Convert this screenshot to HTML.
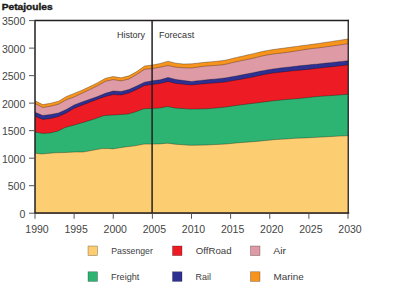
<!DOCTYPE html>
<html><head><meta charset="utf-8"><style>
html,body{margin:0;padding:0;background:#fff;}
svg{display:block;}
text{font-family:"Liberation Sans",sans-serif;fill:#2a2a2a;}
.ax{font-size:10px;fill:#444;}
.lg{font-size:9.8px;fill:#3c3c3c;}
.hf{font-size:9.4px;fill:#333;}
.tk{stroke:#555;stroke-width:1;}
</style></head><body>
<svg width="400" height="289" viewBox="0 0 400 289">
<text x="1.7" y="9.6" style="font-size:9.6px;font-weight:bold;fill:#1a1a1a;stroke:#1a1a1a;stroke-width:0.4" textLength="51.0" lengthAdjust="spacingAndGlyphs">Petajoules</text>
<polygon points="35.00,100.80 42.80,104.60 50.65,103.20 58.50,101.20 66.30,96.50 74.10,93.40 81.95,90.20 89.80,86.60 97.60,82.70 105.40,78.30 113.25,76.50 121.10,77.80 128.90,75.80 136.70,71.60 144.55,66.00 152.40,65.00 160.20,63.50 168.00,61.20 175.90,63.20 183.70,64.00 191.50,63.80 192.51,63.69 193.82,63.54 195.38,63.36 197.12,63.16 199.01,62.95 200.99,62.73 203.00,62.51 205.00,62.30 207.08,62.10 209.32,61.89 211.68,61.69 214.09,61.47 216.49,61.25 218.82,61.02 221.01,60.77 223.00,60.50 224.77,60.21 226.35,59.90 227.81,59.58 229.19,59.25 230.54,58.90 231.93,58.55 233.40,58.18 235.00,57.80 236.71,57.41 238.47,57.01 240.27,56.60 242.12,56.18 244.02,55.75 245.97,55.31 247.96,54.86 250.00,54.40 252.10,53.92 254.25,53.41 256.46,52.89 258.72,52.36 261.01,51.84 263.32,51.33 265.66,50.85 268.00,50.40 270.35,49.99 272.70,49.62 275.07,49.27 277.47,48.94 279.90,48.61 282.38,48.29 284.91,47.95 287.50,47.60 290.25,47.22 293.21,46.83 296.27,46.42 299.34,46.01 302.35,45.62 305.18,45.24 307.77,44.90 310.00,44.60 311.73,44.37 312.96,44.20 313.87,44.08 314.66,43.98 315.48,43.86 316.53,43.71 317.97,43.50 320.00,43.20 322.83,42.78 326.39,42.25 330.41,41.65 334.62,41.01 338.76,40.39 342.55,39.82 345.72,39.34 348.00,39.00 348.00,213.2 35.00,213.2" fill="#F7941D"/>
<polygon points="35.00,103.50 42.80,107.50 50.65,106.20 58.50,104.20 66.30,99.80 74.10,97.00 81.95,93.20 89.80,89.60 97.60,85.70 105.40,81.30 113.25,79.60 121.10,80.90 128.90,79.00 136.70,74.50 144.55,69.30 152.40,68.60 160.20,67.20 168.00,65.50 175.90,67.20 183.70,67.80 191.50,68.00 192.51,67.86 193.82,67.67 195.38,67.44 197.12,67.19 199.01,66.93 200.99,66.67 203.00,66.42 205.00,66.20 207.08,66.01 209.32,65.83 211.68,65.67 214.09,65.51 216.49,65.34 218.82,65.15 221.01,64.94 223.00,64.70 224.77,64.42 226.35,64.12 227.81,63.79 229.19,63.45 230.54,63.09 231.93,62.73 233.40,62.36 235.00,62.00 236.71,61.64 238.47,61.28 240.27,60.91 242.12,60.54 244.02,60.15 245.97,59.75 247.96,59.34 250.00,58.90 252.10,58.42 254.25,57.91 256.46,57.37 258.72,56.81 261.01,56.26 263.32,55.74 265.66,55.24 268.00,54.80 270.35,54.42 272.70,54.09 275.07,53.79 277.47,53.51 279.90,53.24 282.38,52.96 284.91,52.65 287.50,52.30 290.25,51.89 293.21,51.44 296.27,50.96 299.34,50.46 302.35,49.98 305.18,49.53 307.77,49.13 310.00,48.80 311.73,48.57 312.96,48.42 313.87,48.33 314.66,48.27 315.48,48.21 316.53,48.12 317.97,47.96 320.00,47.70 322.83,47.32 326.39,46.83 330.41,46.27 334.62,45.68 338.76,45.10 342.55,44.57 345.72,44.12 348.00,43.80 348.00,213.2 35.00,213.2" fill="#DE9AA5"/>
<polygon points="35.00,112.30 42.80,115.50 50.65,114.50 58.50,113.00 66.30,109.50 74.10,105.00 81.95,102.00 89.80,99.30 97.60,96.50 105.40,93.30 113.25,91.00 121.10,91.50 128.90,89.50 136.70,86.00 144.55,82.20 152.40,80.80 160.20,79.80 168.00,77.50 175.90,79.50 183.70,80.50 191.50,81.50 192.51,81.39 193.82,81.24 195.38,81.06 197.12,80.86 199.01,80.65 200.99,80.43 203.00,80.21 205.00,80.00 207.08,79.79 209.32,79.58 211.68,79.36 214.09,79.13 216.49,78.90 218.82,78.67 221.01,78.44 223.00,78.20 224.77,77.97 226.35,77.74 227.81,77.50 229.19,77.27 230.54,77.02 231.93,76.77 233.40,76.49 235.00,76.20 236.71,75.88 238.47,75.55 240.27,75.20 242.12,74.84 244.02,74.47 245.97,74.09 247.96,73.70 250.00,73.30 252.10,72.89 254.25,72.45 256.46,71.99 258.72,71.53 261.01,71.07 263.32,70.63 265.66,70.20 268.00,69.80 270.35,69.43 272.70,69.08 275.07,68.75 277.47,68.43 279.90,68.12 282.38,67.82 284.91,67.51 287.50,67.20 290.25,66.88 293.21,66.54 296.27,66.20 299.34,65.87 302.35,65.55 305.18,65.25 307.77,64.98 310.00,64.75 311.73,64.57 312.96,64.46 313.87,64.37 314.66,64.31 315.48,64.24 316.53,64.15 317.97,64.01 320.00,63.80 322.83,63.50 326.39,63.12 330.41,62.69 334.62,62.24 338.76,61.80 342.55,61.39 345.72,61.05 348.00,60.80 348.00,213.2 35.00,213.2" fill="#2E3192"/>
<polygon points="35.00,116.30 42.80,119.50 50.65,118.50 58.50,116.50 66.30,113.00 74.10,108.30 81.95,105.20 89.80,102.20 97.60,99.20 105.40,96.50 113.25,94.60 121.10,95.00 128.90,93.00 136.70,89.50 144.55,85.50 152.40,84.50 160.20,83.50 168.00,81.50 175.90,83.50 183.70,84.30 191.50,85.00 192.51,84.90 193.82,84.77 195.38,84.62 197.12,84.44 199.01,84.26 200.99,84.07 203.00,83.88 205.00,83.70 207.08,83.52 209.32,83.35 211.68,83.17 214.09,82.99 216.49,82.80 218.82,82.61 221.01,82.41 223.00,82.20 224.77,81.99 226.35,81.77 227.81,81.55 229.19,81.33 230.54,81.09 231.93,80.84 233.40,80.58 235.00,80.30 236.71,80.01 238.47,79.71 240.27,79.39 242.12,79.07 244.02,78.73 245.97,78.37 247.96,78.00 250.00,77.60 252.10,77.17 254.25,76.69 256.46,76.19 258.72,75.68 261.01,75.17 263.32,74.68 265.66,74.22 268.00,73.80 270.35,73.43 272.70,73.10 275.07,72.79 277.47,72.50 279.90,72.22 282.38,71.95 284.91,71.68 287.50,71.40 290.25,71.11 293.21,70.81 296.27,70.52 299.34,70.22 302.35,69.94 305.18,69.68 307.77,69.43 310.00,69.20 311.73,69.01 312.96,68.87 313.87,68.76 314.66,68.65 315.48,68.54 316.53,68.40 317.97,68.23 320.00,68.00 322.83,67.69 326.39,67.31 330.41,66.88 334.62,66.42 338.76,65.98 342.55,65.58 345.72,65.24 348.00,65.00 348.00,213.2 35.00,213.2" fill="#ED1C24"/>
<polygon points="35.00,132.00 43.00,133.40 50.00,133.00 58.00,131.00 65.00,127.50 75.00,124.80 83.00,122.50 95.00,118.80 104.00,115.50 115.00,114.90 128.00,114.00 135.00,112.00 144.00,108.80 151.00,108.50 160.00,108.00 167.50,106.50 175.00,108.00 190.00,109.10 196.00,109.00 206.00,108.80 216.00,108.00 226.00,107.00 236.00,105.50 246.00,104.20 256.00,103.00 266.00,101.70 276.00,100.50 286.00,99.50 296.00,98.80 306.00,97.70 317.00,96.50 328.00,95.75 339.00,95.00 348.00,94.30 348.00,213.2 35.00,213.2" fill="#2DB473"/>
<polygon points="35.00,153.20 42.00,154.00 47.00,153.50 55.00,152.80 65.00,152.50 75.00,152.00 83.00,152.00 90.00,150.80 95.00,149.80 102.00,148.60 108.00,148.50 113.00,148.90 115.00,148.60 125.00,147.00 135.00,145.80 144.00,144.10 151.00,144.10 160.00,143.90 167.50,143.20 175.00,144.20 190.00,145.30 196.00,145.20 206.00,145.00 216.00,144.50 226.00,144.00 236.00,143.00 246.00,142.20 256.00,141.50 266.00,140.50 276.00,139.50 286.00,139.00 296.00,138.20 306.00,137.90 317.00,137.30 328.00,136.70 339.00,136.10 348.00,135.70 348.00,213.2 35.00,213.2" fill="#FDCD72"/>
<polyline points="35.00,100.80 42.80,104.60 50.65,103.20 58.50,101.20 66.30,96.50 74.10,93.40 81.95,90.20 89.80,86.60 97.60,82.70 105.40,78.30 113.25,76.50 121.10,77.80 128.90,75.80 136.70,71.60 144.55,66.00 152.40,65.00 160.20,63.50 168.00,61.20 175.90,63.20 183.70,64.00 191.50,63.80 192.51,63.69 193.82,63.54 195.38,63.36 197.12,63.16 199.01,62.95 200.99,62.73 203.00,62.51 205.00,62.30 207.08,62.10 209.32,61.89 211.68,61.69 214.09,61.47 216.49,61.25 218.82,61.02 221.01,60.77 223.00,60.50 224.77,60.21 226.35,59.90 227.81,59.58 229.19,59.25 230.54,58.90 231.93,58.55 233.40,58.18 235.00,57.80 236.71,57.41 238.47,57.01 240.27,56.60 242.12,56.18 244.02,55.75 245.97,55.31 247.96,54.86 250.00,54.40 252.10,53.92 254.25,53.41 256.46,52.89 258.72,52.36 261.01,51.84 263.32,51.33 265.66,50.85 268.00,50.40 270.35,49.99 272.70,49.62 275.07,49.27 277.47,48.94 279.90,48.61 282.38,48.29 284.91,47.95 287.50,47.60 290.25,47.22 293.21,46.83 296.27,46.42 299.34,46.01 302.35,45.62 305.18,45.24 307.77,44.90 310.00,44.60 311.73,44.37 312.96,44.20 313.87,44.08 314.66,43.98 315.48,43.86 316.53,43.71 317.97,43.50 320.00,43.20 322.83,42.78 326.39,42.25 330.41,41.65 334.62,41.01 338.76,40.39 342.55,39.82 345.72,39.34 348.00,39.00" fill="none" stroke="#000" stroke-opacity="0.5" stroke-width="0.6" stroke-linejoin="round"/>
<polyline points="35.00,103.50 42.80,107.50 50.65,106.20 58.50,104.20 66.30,99.80 74.10,97.00 81.95,93.20 89.80,89.60 97.60,85.70 105.40,81.30 113.25,79.60 121.10,80.90 128.90,79.00 136.70,74.50 144.55,69.30 152.40,68.60 160.20,67.20 168.00,65.50 175.90,67.20 183.70,67.80 191.50,68.00 192.51,67.86 193.82,67.67 195.38,67.44 197.12,67.19 199.01,66.93 200.99,66.67 203.00,66.42 205.00,66.20 207.08,66.01 209.32,65.83 211.68,65.67 214.09,65.51 216.49,65.34 218.82,65.15 221.01,64.94 223.00,64.70 224.77,64.42 226.35,64.12 227.81,63.79 229.19,63.45 230.54,63.09 231.93,62.73 233.40,62.36 235.00,62.00 236.71,61.64 238.47,61.28 240.27,60.91 242.12,60.54 244.02,60.15 245.97,59.75 247.96,59.34 250.00,58.90 252.10,58.42 254.25,57.91 256.46,57.37 258.72,56.81 261.01,56.26 263.32,55.74 265.66,55.24 268.00,54.80 270.35,54.42 272.70,54.09 275.07,53.79 277.47,53.51 279.90,53.24 282.38,52.96 284.91,52.65 287.50,52.30 290.25,51.89 293.21,51.44 296.27,50.96 299.34,50.46 302.35,49.98 305.18,49.53 307.77,49.13 310.00,48.80 311.73,48.57 312.96,48.42 313.87,48.33 314.66,48.27 315.48,48.21 316.53,48.12 317.97,47.96 320.00,47.70 322.83,47.32 326.39,46.83 330.41,46.27 334.62,45.68 338.76,45.10 342.55,44.57 345.72,44.12 348.00,43.80" fill="none" stroke="#000" stroke-opacity="0.5" stroke-width="0.6" stroke-linejoin="round"/>
<polyline points="35.00,112.30 42.80,115.50 50.65,114.50 58.50,113.00 66.30,109.50 74.10,105.00 81.95,102.00 89.80,99.30 97.60,96.50 105.40,93.30 113.25,91.00 121.10,91.50 128.90,89.50 136.70,86.00 144.55,82.20 152.40,80.80 160.20,79.80 168.00,77.50 175.90,79.50 183.70,80.50 191.50,81.50 192.51,81.39 193.82,81.24 195.38,81.06 197.12,80.86 199.01,80.65 200.99,80.43 203.00,80.21 205.00,80.00 207.08,79.79 209.32,79.58 211.68,79.36 214.09,79.13 216.49,78.90 218.82,78.67 221.01,78.44 223.00,78.20 224.77,77.97 226.35,77.74 227.81,77.50 229.19,77.27 230.54,77.02 231.93,76.77 233.40,76.49 235.00,76.20 236.71,75.88 238.47,75.55 240.27,75.20 242.12,74.84 244.02,74.47 245.97,74.09 247.96,73.70 250.00,73.30 252.10,72.89 254.25,72.45 256.46,71.99 258.72,71.53 261.01,71.07 263.32,70.63 265.66,70.20 268.00,69.80 270.35,69.43 272.70,69.08 275.07,68.75 277.47,68.43 279.90,68.12 282.38,67.82 284.91,67.51 287.50,67.20 290.25,66.88 293.21,66.54 296.27,66.20 299.34,65.87 302.35,65.55 305.18,65.25 307.77,64.98 310.00,64.75 311.73,64.57 312.96,64.46 313.87,64.37 314.66,64.31 315.48,64.24 316.53,64.15 317.97,64.01 320.00,63.80 322.83,63.50 326.39,63.12 330.41,62.69 334.62,62.24 338.76,61.80 342.55,61.39 345.72,61.05 348.00,60.80" fill="none" stroke="#000" stroke-opacity="0.5" stroke-width="0.6" stroke-linejoin="round"/>
<polyline points="35.00,116.30 42.80,119.50 50.65,118.50 58.50,116.50 66.30,113.00 74.10,108.30 81.95,105.20 89.80,102.20 97.60,99.20 105.40,96.50 113.25,94.60 121.10,95.00 128.90,93.00 136.70,89.50 144.55,85.50 152.40,84.50 160.20,83.50 168.00,81.50 175.90,83.50 183.70,84.30 191.50,85.00 192.51,84.90 193.82,84.77 195.38,84.62 197.12,84.44 199.01,84.26 200.99,84.07 203.00,83.88 205.00,83.70 207.08,83.52 209.32,83.35 211.68,83.17 214.09,82.99 216.49,82.80 218.82,82.61 221.01,82.41 223.00,82.20 224.77,81.99 226.35,81.77 227.81,81.55 229.19,81.33 230.54,81.09 231.93,80.84 233.40,80.58 235.00,80.30 236.71,80.01 238.47,79.71 240.27,79.39 242.12,79.07 244.02,78.73 245.97,78.37 247.96,78.00 250.00,77.60 252.10,77.17 254.25,76.69 256.46,76.19 258.72,75.68 261.01,75.17 263.32,74.68 265.66,74.22 268.00,73.80 270.35,73.43 272.70,73.10 275.07,72.79 277.47,72.50 279.90,72.22 282.38,71.95 284.91,71.68 287.50,71.40 290.25,71.11 293.21,70.81 296.27,70.52 299.34,70.22 302.35,69.94 305.18,69.68 307.77,69.43 310.00,69.20 311.73,69.01 312.96,68.87 313.87,68.76 314.66,68.65 315.48,68.54 316.53,68.40 317.97,68.23 320.00,68.00 322.83,67.69 326.39,67.31 330.41,66.88 334.62,66.42 338.76,65.98 342.55,65.58 345.72,65.24 348.00,65.00" fill="none" stroke="#000" stroke-opacity="0.5" stroke-width="0.6" stroke-linejoin="round"/>
<polyline points="35.00,132.00 43.00,133.40 50.00,133.00 58.00,131.00 65.00,127.50 75.00,124.80 83.00,122.50 95.00,118.80 104.00,115.50 115.00,114.90 128.00,114.00 135.00,112.00 144.00,108.80 151.00,108.50 160.00,108.00 167.50,106.50 175.00,108.00 190.00,109.10 196.00,109.00 206.00,108.80 216.00,108.00 226.00,107.00 236.00,105.50 246.00,104.20 256.00,103.00 266.00,101.70 276.00,100.50 286.00,99.50 296.00,98.80 306.00,97.70 317.00,96.50 328.00,95.75 339.00,95.00 348.00,94.30" fill="none" stroke="#000" stroke-opacity="0.5" stroke-width="0.6" stroke-linejoin="round"/>
<polyline points="35.00,153.20 42.00,154.00 47.00,153.50 55.00,152.80 65.00,152.50 75.00,152.00 83.00,152.00 90.00,150.80 95.00,149.80 102.00,148.60 108.00,148.50 113.00,148.90 115.00,148.60 125.00,147.00 135.00,145.80 144.00,144.10 151.00,144.10 160.00,143.90 167.50,143.20 175.00,144.20 190.00,145.30 196.00,145.20 206.00,145.00 216.00,144.50 226.00,144.00 236.00,143.00 246.00,142.20 256.00,141.50 266.00,140.50 276.00,139.50 286.00,139.00 296.00,138.20 306.00,137.90 317.00,137.30 328.00,136.70 339.00,136.10 348.00,135.70" fill="none" stroke="#000" stroke-opacity="0.5" stroke-width="0.6" stroke-linejoin="round"/>

<path d="M35,213.2 V20.5 H348.9" fill="none" stroke="#231F20" stroke-width="1.5"/><line x1="348.25" y1="19.75" x2="348.25" y2="213.85" stroke="#231F20" stroke-width="1.3"/><line x1="34.25" y1="213.1" x2="349.2" y2="213.1" stroke="#231F20" stroke-width="1.5"/>
<line x1="152.1" y1="20.5" x2="152.1" y2="213.2" stroke="#231F20" stroke-width="1.5"/>
<text x="116.9" y="37.6" class="hf" textLength="28" lengthAdjust="spacingAndGlyphs">History</text>
<text x="159" y="37.6" class="hf" textLength="35.2" lengthAdjust="spacingAndGlyphs">Forecast</text>
<text x="25.3" y="217.90" text-anchor="end" class="ax" textLength="5.85" lengthAdjust="spacingAndGlyphs">0</text><line x1="29" y1="213.20" x2="35" y2="213.20" class="tk"/>
<text x="25.3" y="190.39" text-anchor="end" class="ax" textLength="17.55" lengthAdjust="spacingAndGlyphs">500</text><line x1="29" y1="185.69" x2="35" y2="185.69" class="tk"/>
<text x="25.3" y="162.87" text-anchor="end" class="ax" textLength="23.40" lengthAdjust="spacingAndGlyphs">1000</text><line x1="29" y1="158.17" x2="35" y2="158.17" class="tk"/>
<text x="25.3" y="135.36" text-anchor="end" class="ax" textLength="23.40" lengthAdjust="spacingAndGlyphs">1500</text><line x1="29" y1="130.66" x2="35" y2="130.66" class="tk"/>
<text x="25.3" y="107.84" text-anchor="end" class="ax" textLength="23.40" lengthAdjust="spacingAndGlyphs">2000</text><line x1="29" y1="103.14" x2="35" y2="103.14" class="tk"/>
<text x="25.3" y="80.33" text-anchor="end" class="ax" textLength="23.40" lengthAdjust="spacingAndGlyphs">2500</text><line x1="29" y1="75.63" x2="35" y2="75.63" class="tk"/>
<text x="25.3" y="52.81" text-anchor="end" class="ax" textLength="23.40" lengthAdjust="spacingAndGlyphs">3000</text><line x1="29" y1="48.11" x2="35" y2="48.11" class="tk"/>
<text x="25.3" y="25.30" text-anchor="end" class="ax" textLength="23.40" lengthAdjust="spacingAndGlyphs">3500</text><line x1="29" y1="20.60" x2="35" y2="20.60" class="tk"/>
<text x="37.00" y="232.9" text-anchor="middle" class="ax" textLength="23.4" lengthAdjust="spacingAndGlyphs">1990</text><line x1="35.00" y1="213.2" x2="35.00" y2="218.8" class="tk"/>
<text x="76.12" y="232.9" text-anchor="middle" class="ax" textLength="23.4" lengthAdjust="spacingAndGlyphs">1995</text><line x1="74.12" y1="213.2" x2="74.12" y2="218.8" class="tk"/>
<text x="115.25" y="232.9" text-anchor="middle" class="ax" textLength="23.4" lengthAdjust="spacingAndGlyphs">2000</text><line x1="113.25" y1="213.2" x2="113.25" y2="218.8" class="tk"/>
<text x="154.38" y="232.9" text-anchor="middle" class="ax" textLength="23.4" lengthAdjust="spacingAndGlyphs">2005</text><line x1="152.38" y1="213.2" x2="152.38" y2="218.8" class="tk"/>
<text x="193.50" y="232.9" text-anchor="middle" class="ax" textLength="23.4" lengthAdjust="spacingAndGlyphs">2010</text><line x1="191.50" y1="213.2" x2="191.50" y2="218.8" class="tk"/>
<text x="232.62" y="232.9" text-anchor="middle" class="ax" textLength="23.4" lengthAdjust="spacingAndGlyphs">2015</text><line x1="230.62" y1="213.2" x2="230.62" y2="218.8" class="tk"/>
<text x="271.75" y="232.9" text-anchor="middle" class="ax" textLength="23.4" lengthAdjust="spacingAndGlyphs">2020</text><line x1="269.75" y1="213.2" x2="269.75" y2="218.8" class="tk"/>
<text x="310.88" y="232.9" text-anchor="middle" class="ax" textLength="23.4" lengthAdjust="spacingAndGlyphs">2025</text><line x1="308.88" y1="213.2" x2="308.88" y2="218.8" class="tk"/>
<text x="350.00" y="232.9" text-anchor="middle" class="ax" textLength="23.4" lengthAdjust="spacingAndGlyphs">2030</text><line x1="348.00" y1="213.2" x2="348.00" y2="218.8" class="tk"/>
<rect x="88" y="246" width="9.5" height="9.6" fill="#FDCD72" stroke="#000" stroke-width="0.5" stroke-opacity="0.5"/><text x="111.3" y="253.7" class="lg" textLength="41.5" lengthAdjust="spacingAndGlyphs">Passenger</text>
<rect x="172.5" y="246" width="9.5" height="9.6" fill="#ED1C24" stroke="#000" stroke-width="0.5" stroke-opacity="0.5"/><text x="195.8" y="253.7" class="lg" textLength="35.8" lengthAdjust="spacingAndGlyphs">OffRoad</text>
<rect x="250.5" y="246" width="9.5" height="9.6" fill="#DE9AA5" stroke="#000" stroke-width="0.5" stroke-opacity="0.5"/><text x="273.2" y="253.7" class="lg" textLength="12.8" lengthAdjust="spacingAndGlyphs">Air</text>
<rect x="88" y="271.8" width="9.5" height="9.6" fill="#2DB473" stroke="#000" stroke-width="0.5" stroke-opacity="0.5"/><text x="111" y="280" class="lg" textLength="28.3" lengthAdjust="spacingAndGlyphs">Freight</text>
<rect x="172.5" y="271.8" width="9.5" height="9.6" fill="#2E3192" stroke="#000" stroke-width="0.5" stroke-opacity="0.5"/><text x="195.6" y="280" class="lg" textLength="15.4" lengthAdjust="spacingAndGlyphs">Rail</text>
<rect x="250.5" y="271.8" width="9.5" height="9.6" fill="#F7941D" stroke="#000" stroke-width="0.5" stroke-opacity="0.5"/><text x="273.6" y="280" class="lg" textLength="30.2" lengthAdjust="spacingAndGlyphs">Marine</text>
</svg>
</body></html>
